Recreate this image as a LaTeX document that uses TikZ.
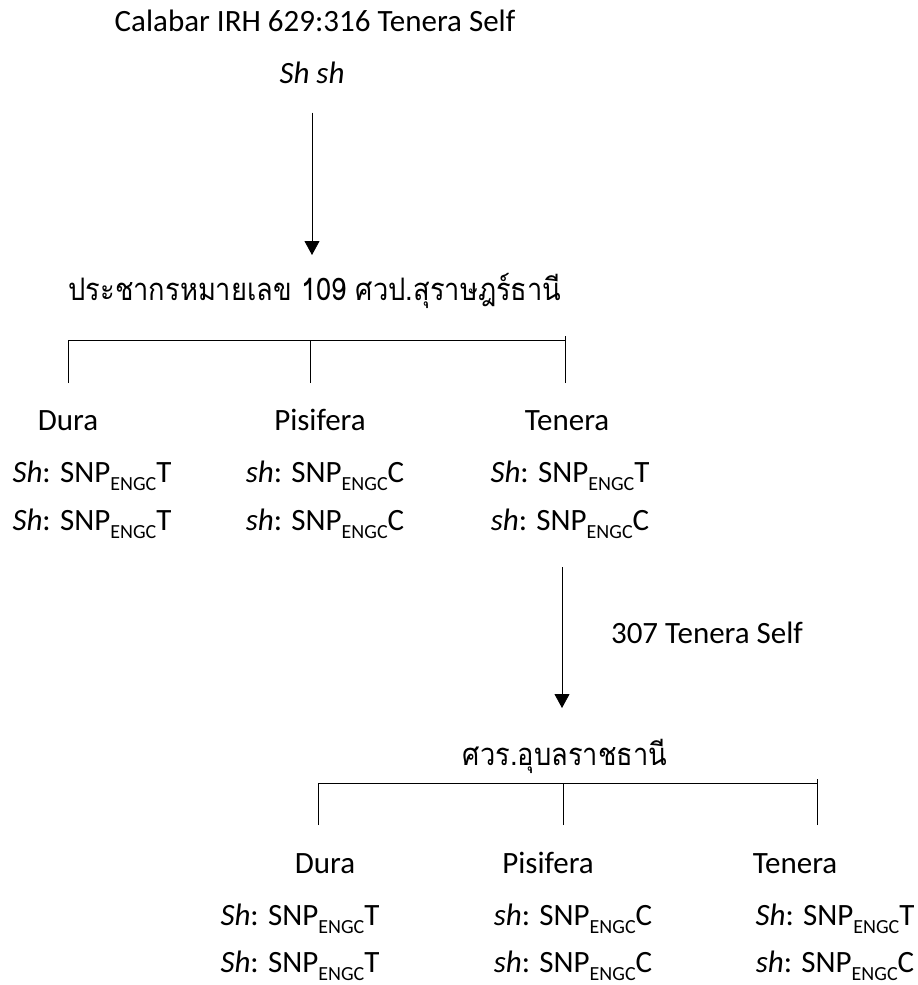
\documentclass[tikz,border=0pt]{standalone}
\usepackage{fontspec}
\setmainfont{Carlito}
\newfontfamily\thaifont[Script=Thai,FakeStretch=0.88]{Loma}
\usetikzlibrary{arrows.meta}
\newcommand{\snp}[1]{SNP\raisebox{-0.55ex}{\fontsize{10}{12}\selectfont ENGC}#1}
\tikzset{
  txt/.style={inner sep=0pt, anchor=base, font=\fontsize{15.5}{18}\selectfont},
  thai/.style={inner sep=0pt, anchor=base, font=\thaifont\fontsize{15.5}{18}\selectfont},
  arr/.style={-{Triangle[width=7.5pt,length=7pt]}},
}
\begin{document}
\begin{tikzpicture}[x=0.5pt,y=-0.5pt]
  \useasboundingbox (0,0) rectangle (917,985);
  % Parent palm
  \node[txt] (cross) at (315,32) {Calabar IRH 629:316 Tenera Self};
  \node[txt] (parent) at (312,83) {\textit{Sh sh}};
  \node[thai] (pop109) at (315,300) {ประชากรหมายเลข 109 ศวป.สุราษฎร์ธานี};
  \draw[arr, shorten <=14.5pt] (parent.south) -- (parent.south |- 0,255);
  % First generation
  \coordinate (bar1) at (0,340);
  \coordinate (d1) at (68,383);
  \coordinate (p1) at (310,383);
  \coordinate (t1) at (565,383);
  \draw (d1) -- (d1 |- bar1) -- (t1 |- bar1);
  \draw (p1) -- (p1 |- bar1);
  \draw (t1) -- ++(0,-47);
  \node[txt] (dura1) at (68,430) {Dura};
  \node[txt] (pisi1) at (320,430) {Pisifera};
  \node[txt] (ten1) at (567,430) {Tenera};
  \foreach \n/\x/\a/\b/\c/\d in {dura/92/Sh/T/Sh/T, pisi/325/sh/C/sh/C, ten/570/Sh/T/sh/C}{
    \node[txt] (\n1a) at (\x,482) {\textit{\a}: \snp{\b}};
    \node[txt] (\n1b) at (\x,530) {\textit{\c}: \snp{\d}};
  }
  % Selfing of tenera
  \coordinate (cross2) at (562,567);
  \node[txt] (self) at (707,643) {307 Tenera Self};
  \node[thai] (ubon) at (565,765) {ศวร.อุบลราชธานี};
  \draw[arr] (cross2) -- (cross2 |- 0,708);
  % Second generation
  \coordinate (bar2) at (0,783);
  \coordinate (d2) at (318,825);
  \coordinate (p2) at (563,825);
  \coordinate (t2) at (817,825);
  \draw (d2) -- (d2 |- bar2) -- (t2 |- bar2);
  \draw (p2) -- (p2 |- bar2);
  \draw (t2) -- ++(0,-46);
  \node[txt] (dura2) at (325,873) {Dura};
  \node[txt] (pisi2) at (548,873) {Pisifera};
  \node[txt] (ten2) at (795,873) {Tenera};
  \foreach \n/\x/\a/\b/\c/\d in {dura/300/Sh/T/Sh/T, pisi/573/sh/C/sh/C, ten/835/Sh/T/sh/C}{
    \node[txt] (\n2a) at (\x,925) {\textit{\a}: \snp{\b}};
    \node[txt] (\n2b) at (\x,972) {\textit{\c}: \snp{\d}};
  }
\end{tikzpicture}
\end{document}
